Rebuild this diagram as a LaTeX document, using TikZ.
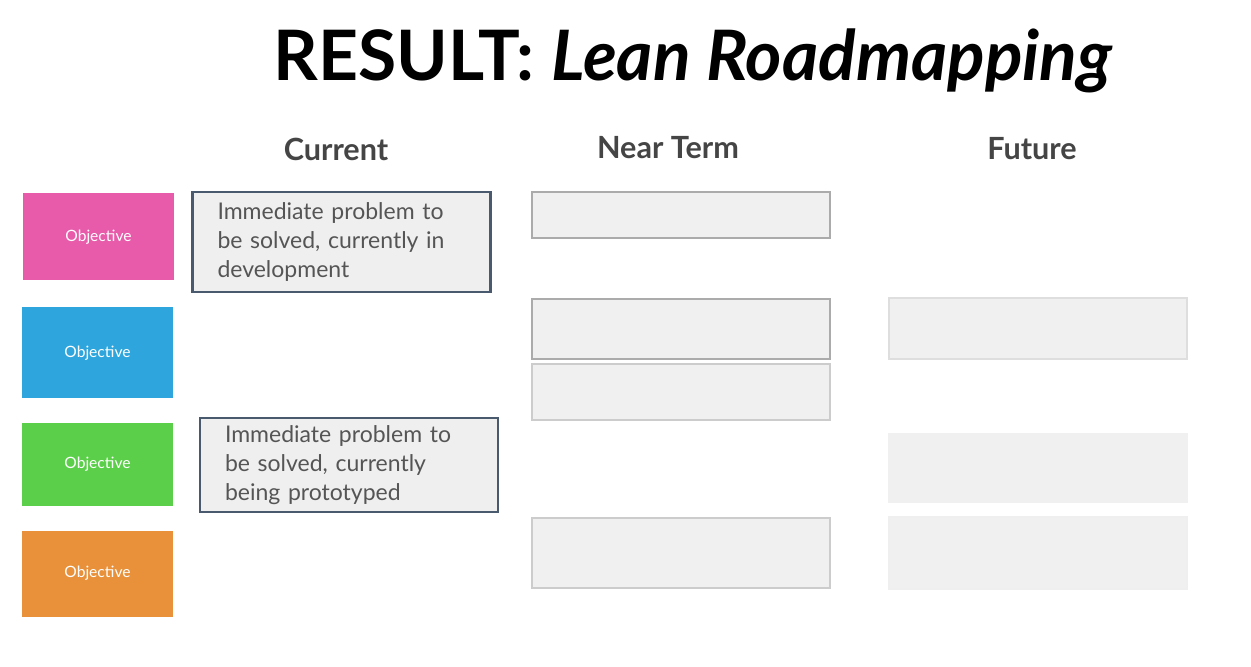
\documentclass[tikz,border=0pt]{standalone}
\usepackage{fontspec}
\setmainfont{Lato}
\usetikzlibrary{positioning}

\definecolor{objpink}{HTML}{E85AAA}
\definecolor{objblue}{HTML}{2EA6DD}
\definecolor{objgreen}{HTML}{5CCF4A}
\definecolor{objorange}{HTML}{E8913A}
\definecolor{curborder}{HTML}{4A5A6E}
\definecolor{boxfill}{HTML}{EFEFF0}
\definecolor{textgray}{HTML}{555555}
\definecolor{headgray}{HTML}{454545}

\tikzset{
  objective/.style={fill=#1, text=white, inner sep=0pt, minimum width=75.5pt,
    font=\fontsize{7.8}{9}\selectfont},
  current/.style={draw=curborder, line width=1.3pt, fill=boxfill, text=textgray,
    align=left, text width=124pt, inner xsep=12.5pt, inner ysep=0pt,
    font=\fontsize{11.5}{14.5}\selectfont},
  slot/.style={draw=#1, line width=1.2pt, fill=boxfill!95!white, inner sep=0pt,
    minimum width=149pt},
  heading/.style={text=headgray, font=\fontsize{15.3}{17}\selectfont\bfseries}
}

\begin{document}
\begin{tikzpicture}[x=0.5pt,y=-0.5pt]
\useasboundingbox (0,0) rectangle (1251,667);

% title
\node (title) at (693,61) {\fontsize{34.8}{40}\selectfont\bfseries RESULT: \itshape Lean Roadmapping};

% column headings
\node [heading] (current) at (336,149) {Current};
\node [heading] (nearterm) at (668,148) {Near Term};
\node [heading] (future) at (1032,149) {Future};

% objectives
\node [objective=objpink, minimum height=43.5pt] (obj1) at (98.5,237) {Objective};
\node [objective=objblue, minimum height=45.5pt] (obj2) at (97.5,353) {Objective};
\node [objective=objgreen, minimum height=41pt] (obj3) at (97.5,464.5) {Objective};
\node [objective=objorange, minimum height=43pt] (obj4) at (97.5,573.5) {Objective};

% current
\node [current, minimum height=50pt] (cur1) at (341.5,242)
  {Immediate problem to\\be solved, currently in\\development};
\node [current, minimum height=47pt] (cur2) at (349,465)
  {Immediate problem to\\be solved, currently\\being prototyped};

% near term
\node [slot=black!33, minimum height=23pt] (near1) at (681,215) {};
\node [slot=black!33, minimum height=30pt] (near2) at (681,329) {};
\node [slot=black!20, minimum height=28pt] (near3) at (681,392) {};
\node [slot=black!20, minimum height=35pt] (near4) at (681,553) {};

% future
\node [slot=black!13, minimum height=30.5pt] (fut1) at (1038,328.5) {};
\node [slot=boxfill!95!white, minimum height=34pt] (fut2) at (1038,468) {};
\node [slot=boxfill!97!white, minimum height=36pt] (fut3) at (1038,553) {};
\end{tikzpicture}
\end{document}
